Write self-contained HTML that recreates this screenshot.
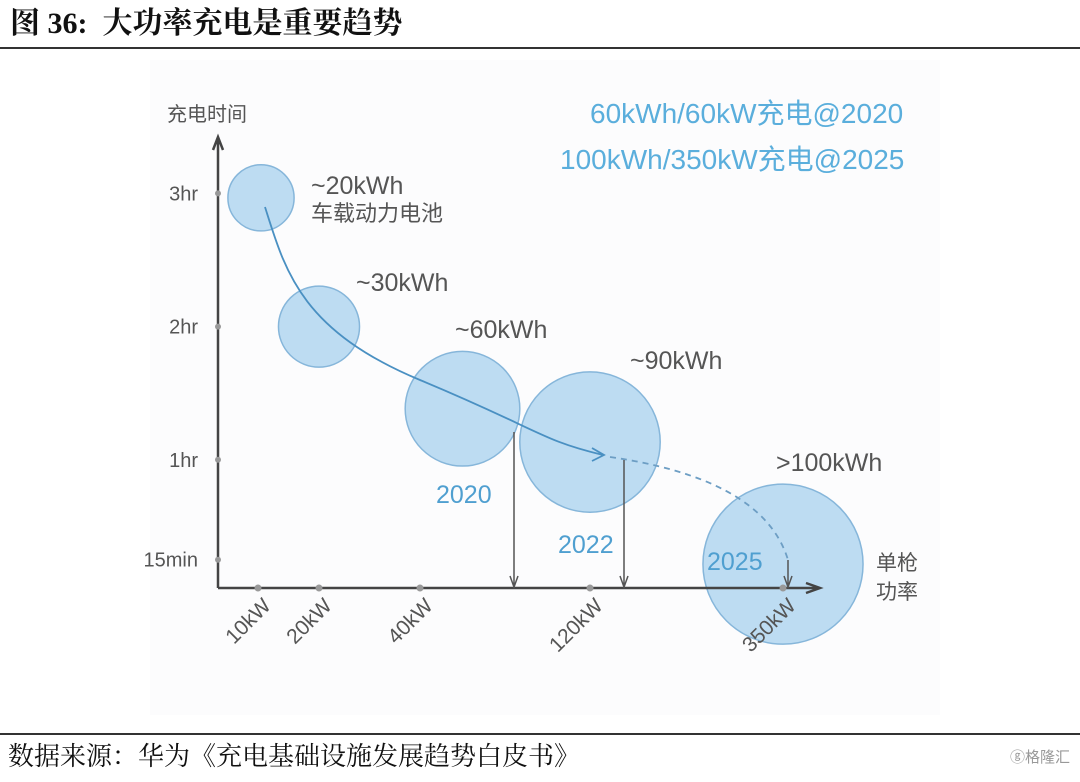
<!DOCTYPE html>
<html><head><meta charset="utf-8">
<style>
body{margin:0;width:1080px;height:782px;background:#fff;overflow:hidden;font-family:"Liberation Sans","Noto Sans CJK SC",sans-serif;}
#title{position:absolute;left:10px;top:7px;font:bold 30px/34px "Liberation Serif","Noto Serif CJK SC",serif;color:#111;white-space:nowrap;}
#src{position:absolute;left:8px;top:736px;font:26px "Liberation Serif","Noto Serif CJK SC",serif;color:#111;white-space:nowrap;}
#logo{position:absolute;left:1010px;top:746px;font:15px "Liberation Sans","Noto Sans CJK SC",sans-serif;color:#999;}
</style></head><body>
<div id="title">图 36:&nbsp; 大功率充电是重要趋势</div>
<svg width="1080" height="782" style="position:absolute;left:0;top:0">
<rect x="0" y="47" width="1080" height="2" fill="#333"/>
<rect x="150" y="60" width="790" height="655" fill="#fcfcfd"/>
<rect x="0" y="733" width="1080" height="2" fill="#333"/>
<g id="plot"></g>
</svg>
<div id="src">数据来源：华为《充电基础设施发展趋势白皮书》</div>
<div id="logo">ⓖ格隆汇</div>
<script>
const xTicks=[10,20,40,120,350];
const xTickLabels=["10kW","20kW","40kW","120kW","350kW"];
const yTicks=[180,120,60,15];
const yTickLabels=["3hr","2hr","1hr","15min"];
const bubbleKW=[10,20,60,120,350];
const bubbleMin=[178,120,83,68,13];
const bubbleCap=[20,30,60,90,117];
const bubbleLabels=["~20kWh","~30kWh","~60kWh","~90kWh",">100kWh"];
const yearLabels=["","","2020","2022","2025"];
const drops=[90,135,350];

const xr=[258,319,420,590,783];
function X(v){for(let i=0;i<xTicks.length-1;i++){if(v<=xTicks[i+1]){return xr[i]+(v-xTicks[i])/(xTicks[i+1]-xTicks[i])*(xr[i+1]-xr[i]);}}return xr[4];}
function Y(m){return 593-m*2.22;}
function R(c){return 7.4*Math.sqrt(c);}
const NS="http://www.w3.org/2000/svg";
const g=document.getElementById('plot');
function mk(t,a,txt){const e=document.createElementNS(NS,t);for(const k in a)e.setAttribute(k,a[k]);if(txt!==undefined)e.textContent=txt;g.appendChild(e);return e;}
const grey="#555",blue="#4f9fd0";
bubbleKW.forEach((k,i)=>{
 const c=mk('circle',{cx:X(k)+(i==0?3:0),cy:Y(bubbleMin[i]),r:R(bubbleCap[i]),fill:"#bddcf2",stroke:"#86b6da","stroke-width":1.5});
 
 
});
const ax=mk('path',{d:"M218,588 L218,140 M213,150 L218,137 L223,150 M218,588 L818,588 M806,583 L820,588 L806,593",stroke:"#444","stroke-width":2.5,fill:"none"});


yTicks.forEach((m,i)=>{
 const d=mk('circle',{cx:218,cy:Y(m),r:3,fill:"#999"});
 
 
 const t=mk('text',{x:198,y:Y(m)+7,"text-anchor":"end","font-size":20,fill:grey},yTickLabels[i]);
 
 
});
xTicks.forEach((k,i)=>{
 const d=mk('circle',{cx:X(k),cy:588,r:3.5,fill:"#999"});
 
 
 const t=mk('text',{x:X(k)+14,y:607,"text-anchor":"end","font-size":21,fill:grey,transform:`rotate(-45 ${X(k)+14} 607)`},xTickLabels[i]);
 
 
});
const p1=mk('path',{d:`M265,207 C285,270 300,330 ${X(40)},380 S540,440 603,455`,stroke:"#4a90c2","stroke-width":1.8,fill:"none"});


const a1=mk('path',{d:"M592,448 L604,455 L592,461",stroke:"#4a90c2","stroke-width":1.8,fill:"none"});


const p2=mk('path',{d:"M610,457 C700,470 770,500 788,560",stroke:"#6d9ec4","stroke-width":1.8,fill:"none","stroke-dasharray":"6,5"});


const dropTop=[432,460,560];
drops.forEach((k,i)=>{
 const x=i==0?514:(i==1?624:788);
 const l=mk('path',{d:`M${x},${dropTop[i]} L${x},586 M${x-4},576 L${x},587 L${x+4},576`,stroke:"#555","stroke-width":1.5,fill:"none"});
 
 
});
const lp=[[311,194],[356,291],[455,338],[630,369],[776,471]];
bubbleLabels.forEach((s,i)=>{
 const t=mk('text',{x:lp[i][0],y:lp[i][1],"font-size":25,fill:grey},s);
 
 
});
const t0=mk('text',{x:311,y:221,"font-size":22,fill:grey},"车载动力电池");


const yp=[[0,0],[0,0],[436,503],[558,553],[707,570]];
yearLabels.forEach((s,i)=>{ if(!s)return;
 const t=mk('text',{x:yp[i][0],y:yp[i][1],"font-size":25,fill:blue},s);
 
 
});
const yt=mk('text',{x:167,y:121,"font-size":20,fill:grey},"充电时间");


const xt1=mk('text',{x:876,y:570,"font-size":21,fill:grey},"单枪");


const xt2=mk('text',{x:876,y:599,"font-size":21,fill:grey},"功率");


const n1=mk('text',{x:590,y:123,"font-size":28,fill:"#5aaedc"},"60kWh/60kW充电@2020");


const n2=mk('text',{x:560,y:169,"font-size":28,fill:"#5aaedc"},"100kWh/350kW充电@2025");


</script>
</body></html>
